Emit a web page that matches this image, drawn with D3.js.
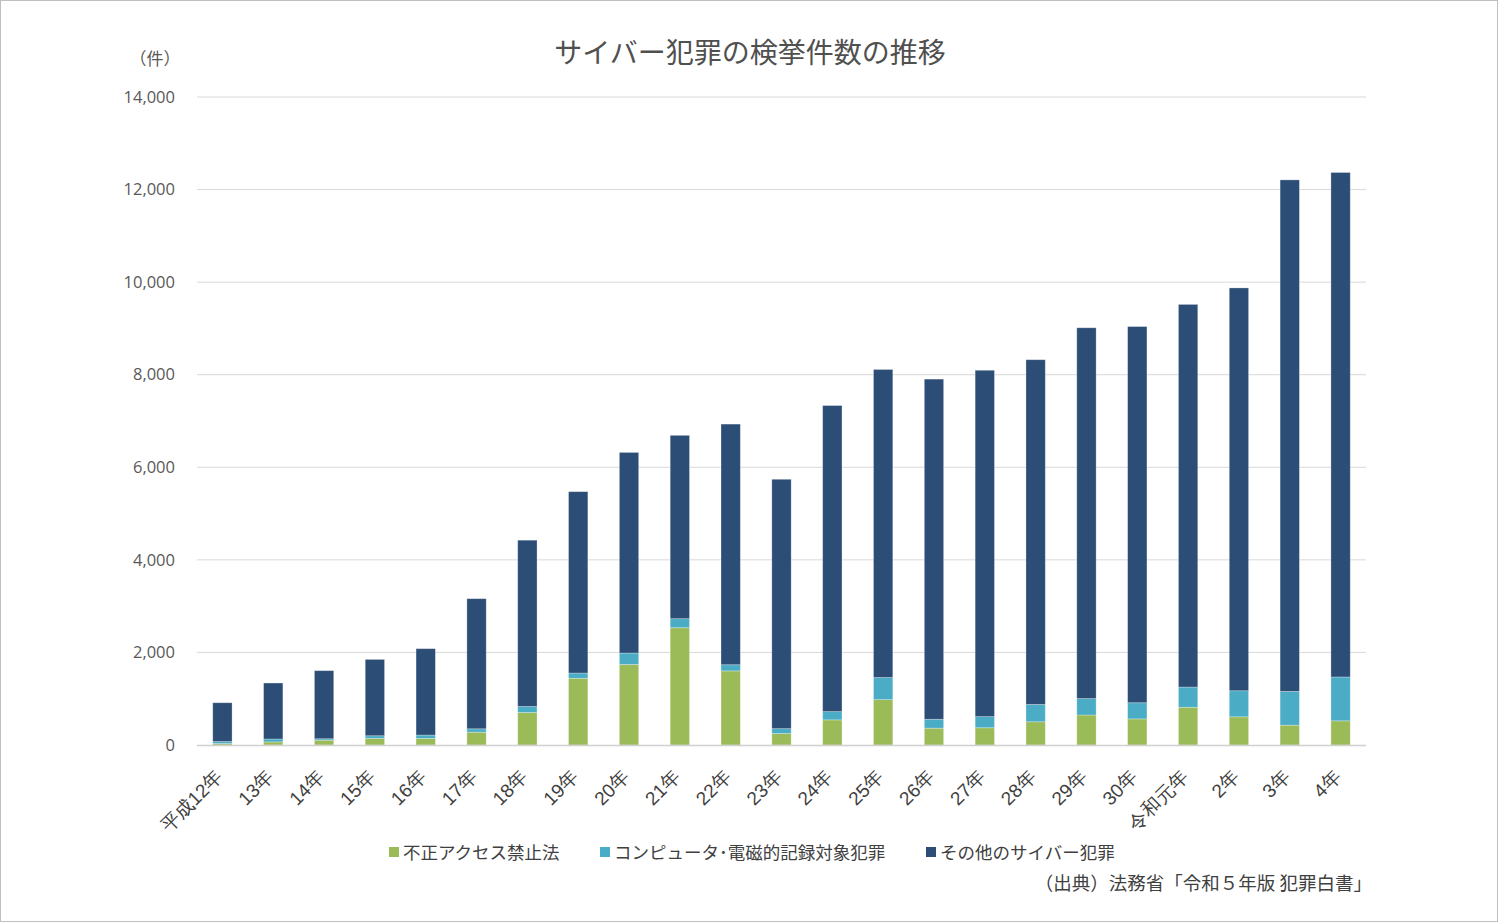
<!DOCTYPE html>
<html><head><meta charset="utf-8">
<script src="https://cdn.jsdelivr.net/npm/d3@7"></script>
<style>
html,body{margin:0;padding:0;background:#fff;}
svg{display:block;font-family:"Noto Sans CJK JP","Noto Sans",sans-serif;}
</style></head>
<body>
<script>
const categories = ["平成12年","13年","14年","15年","16年","17年","18年","19年","20年","21年","22年","23年","24年","25年","26年","27年","28年","29年","30年","令和元年","2年","3年","4年"];
const unauthorizedAccess = [31,67,105,145,142,277,703,1442,1740,2534,1601,248,543,980,364,373,502,648,564,816,609,429,522];
const computerCrime = [44,63,30,55,73,73,129,113,247,195,133,105,178,478,192,240,374,355,349,436,563,729,948];
const otherCyber = [838,1209,1471,1649,1866,2811,3593,3918,4334,3961,5199,5388,6613,6655,7349,7483,7448,8011,8127,8267,8703,11051,10899];
const seriesNames = ["不正アクセス禁止法","コンピュータ･電磁的記録対象犯罪","その他のサイバー犯罪"];
const seriesColors = ["#9BBB59","#4BACC6","#2C4D75"];
const yTicks = [0,2000,4000,6000,8000,10000,12000,14000];
const titleText = "サイバー犯罪の検挙件数の推移";
const unitText = "（件）";
const sourceText = "（出典）法務省「令和５年版 犯罪白書」";

(function(){
const W = 1498, H = 922;
const svg = d3.select("body").append("svg").attr("width", W).attr("height", H);
svg.append("rect").attr("x",0.5).attr("y",0.5).attr("width",W-1).attr("height",H-1)
  .attr("fill","#fff").attr("stroke","#bfbfbf");

const mL = 197, mR = 1366, mT = 97, mB = 745;
const x = d3.scaleBand().domain(categories).range([mL, mR]).paddingInner(0.62).paddingOuter(0.31);
const y = d3.scaleLinear().domain([0,14000]).range([mB, mT]);

svg.append("g").selectAll("line").data(yTicks.filter(d=>d>0)).join("line")
  .attr("x1", mL).attr("x2", mR)
  .attr("y1", d=>y(d)).attr("y2", d=>y(d))
  .attr("stroke","#d9d9d9").attr("stroke-width",1);

const yAxis = d3.axisLeft(y).tickValues(yTicks).tickSize(0).tickPadding(0)
  .tickFormat(d3.format(","));
const yg = svg.append("g").attr("transform",`translate(${mL-22},0)`).call(yAxis);
yg.select(".domain").remove();
yg.selectAll("text").attr("fill","#595959").style("font-size","16.5px")
  .style("font-family","'Open Sans','Noto Sans',sans-serif");

const rows = categories.map((c,i)=>({cat:c, a:unauthorizedAccess[i], b:computerCrime[i], c2:otherCyber[i]}));
const stacked = d3.stack().keys(["a","b","c2"])(rows);

svg.append("g").selectAll("g").data(stacked).join("g")
  .attr("fill",(d,i)=>seriesColors[i])
  .selectAll("rect").data(d=>d).join("rect")
  .attr("x", d=>x(d.data.cat))
  .attr("width", x.bandwidth())
  .attr("y", d=>y(d[1]))
  .attr("height", d=>y(d[0])-y(d[1]))
  .attr("stroke", "rgba(255,255,255,0.35)").attr("stroke-width",0.8);

svg.append("line").attr("x1",mL).attr("x2",mR).attr("y1",mB+0.5).attr("y2",mB+0.5)
  .attr("stroke","#d0d0d0").attr("stroke-width",1.5);

const xAxis = d3.axisBottom(x).tickSize(0).tickPadding(0);
const xg = svg.append("g").attr("transform",`translate(0,${mB})`).call(xAxis);
xg.select(".domain").remove();
xg.selectAll(".tick text")
  .attr("fill","#404040").style("font-size","19px")
  .attr("text-anchor","end")
  .attr("dy","0")
  .attr("transform","translate(1.5,33) rotate(-45)")
  .attr("y",0).attr("x",0);

svg.append("text").attr("x", 750).attr("y", 63).attr("text-anchor","middle")
  .attr("fill","#505050").style("font-size","28px").text(titleText);
svg.append("text").attr("x", 155).attr("y", 65).attr("text-anchor","middle")
  .attr("fill","#595959").style("font-size","17px").text(unitText);

const legendX = [389, 600, 926];
const lg = svg.append("g");
seriesNames.forEach((n,i)=>{
  lg.append("rect").attr("x",legendX[i]).attr("y",847).attr("width",10).attr("height",10).attr("fill",seriesColors[i]);
  lg.append("text").attr("x",legendX[i]+14).attr("y",858.5).attr("fill","#404040").style("font-size","17.5px").text(n);
});

svg.append("text").attr("x", 1372).attr("y", 890).attr("text-anchor","end")
  .attr("fill","#404040").style("font-size","18.5px").text(sourceText);
})();
</script>
</body></html>
